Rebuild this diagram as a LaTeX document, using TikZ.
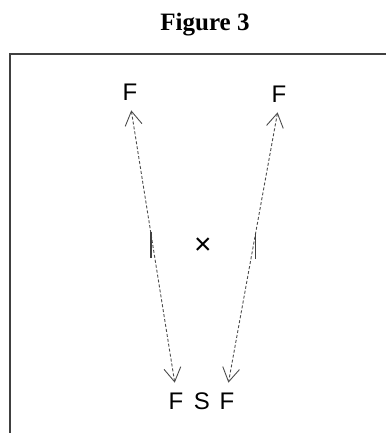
\documentclass[tikz,border=0pt]{standalone}
\usepackage{fontspec}
\setmainfont{Liberation Serif}
\newfontfamily\labelfont{Liberation Sans}
\usepackage{tikz}
\usetikzlibrary{arrows.meta}

\begin{document}
\begin{tikzpicture}[
    x=1pt, y=-1pt,
    lbl/.style={font=\labelfont\fontsize{24}{27}\selectfont, inner sep=2pt},
    path/.style={densely dashed, gray!60!black, line width=0.9pt,
        {Straight Barb[length=14pt, width=17pt, line width=0.9pt]}-{Straight Barb[length=14pt, width=17pt, line width=0.9pt]},
        shorten <=8pt, shorten >=8pt},
    barb/.style={gray!50!black, line width=1.6pt},
    frame/.style={draw=gray!50!black, line width=1.3pt},
]
\useasboundingbox (0,0) rectangle (385,433);

% title and frame
\node[font=\bfseries\fontsize{25}{28}\selectfont] (title) at (205,25) {Figure 3};
\draw[frame] (10,445) -- (10,54) -- (395,54);

% labels
\node[lbl] (F1) at (130,92) {F};
\node[lbl] (F2) at (279,94) {F};
\node[lbl] (FL) at (176,401) {F};
\node[lbl] (S)  at (202,401) {S};
\node[lbl] (FR) at (227,401) {F};
\node[font=\labelfont\fontsize{30}{32}\selectfont] (X) at (203,246) {×};

% paths
\draw[path] (F1.south) -- coordinate[pos=0.45] (mL) (FL.north);
\draw[path] (F2.south) -- coordinate[pos=0.45] (mR) (FR.north);
\draw[barb] (mL) -- ++(0,26);
\draw[barb] (mR) -- ++(0,26);

\end{tikzpicture}
\end{document}
